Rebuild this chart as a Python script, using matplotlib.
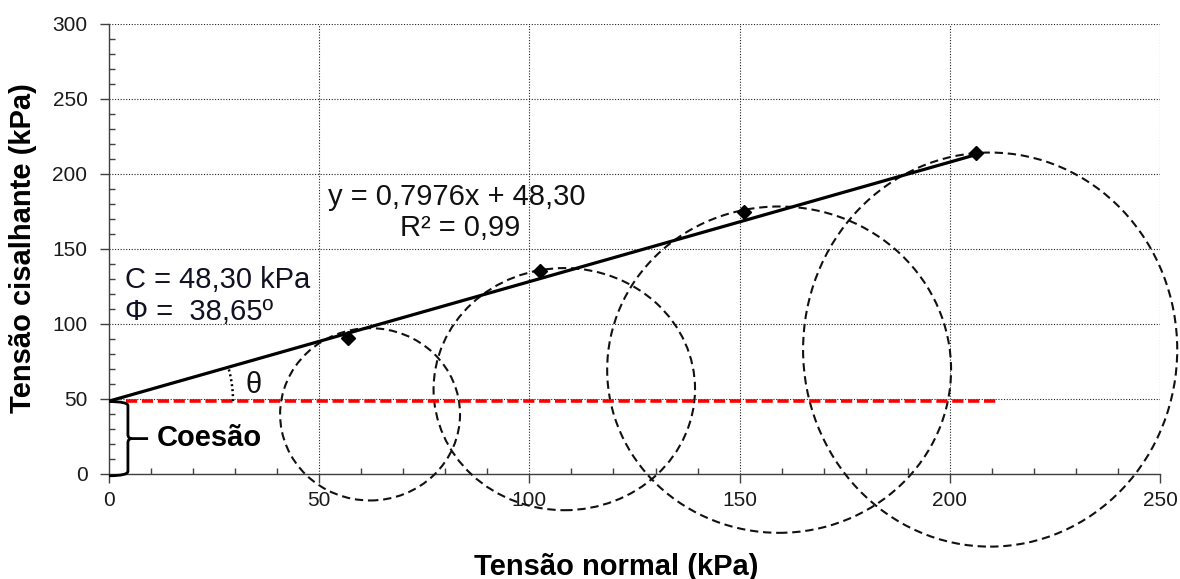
import numpy as np
import matplotlib
matplotlib.use("Agg")
import matplotlib.pyplot as plt
from matplotlib.patches import Ellipse, PathPatch
from matplotlib.path import Path

plt.rcParams['font.family'] = ['Liberation Sans', 'DejaVu Sans']

# ---- data ----
sigma_n = [56.9, 102.6, 151.0, 206.2]          # normal stress (kPa)
tau = [90.7, 134.9, 174.5, 213.8]              # shear stress (kPa)
trend_slope = 0.7976
trend_intercept = 48.30
cohesion = 48.30
phi_deg = 38.65

circle_cx = [62.1, 108.3, 159.4, 209.6]
circle_cy = [39.5, 56.3, 69.3, 82.7]
circle_w = [42.8, 62.2, 81.8, 89.0]
circle_h = [115.0, 161.6, 217.8, 263.0]

x_ticks = [0, 50, 100, 150, 200, 250]
y_ticks = [0, 50, 100, 150, 200, 250, 300]

W, H = 1180, 579
fig = plt.figure(figsize=(W / 100, H / 100), dpi=100)
ax = fig.add_axes([109 / W, 1 - 473.5 / H, (1160 - 109) / W, (473.5 - 24) / H])
ax.set_xlim(0, 250)
ax.set_ylim(0, 300)

# grid
ax.set_xticks(x_ticks)
ax.set_yticks(y_ticks)
ax.set_xticks(np.arange(0, 251, 10), minor=True)
ax.set_yticks(np.arange(0, 301, 10), minor=True)
ax.grid(True, which='major', linestyle=(0, (1, 1.5)), linewidth=0.8, color='#222222')
ax.set_axisbelow(True)
for s in ['top', 'right']:
    ax.spines[s].set_visible(False)
for s in ['left', 'bottom']:
    ax.spines[s].set_color('#404040')
    ax.spines[s].set_linewidth(1.0)
ax.tick_params(which='major', direction='out', length=6.5, width=1.0, color='#404040',
               labelsize=15, labelcolor='#1a1a1a')
ax.tick_params(axis='x', which='major', pad=6)
ax.tick_params(axis='y', which='major', pad=9)
ax.tick_params(which='minor', direction='in', length=4, width=1.0, color='#404040')

# Mohr circles
for cx, cy, w, h in zip(circle_cx, circle_cy, circle_w, circle_h):
    e = Ellipse((cx, cy), w, h, fill=False, edgecolor='#111111', linewidth=1.5,
                linestyle=(0, (4.0, 2.3)), clip_on=False, zorder=3)
    ax.add_patch(e)

# cohesion line
ax.plot([4, 211], [cohesion, cohesion], color='#ff0000', linewidth=2.6,
        linestyle=(0, (3.1, 1.3)), zorder=4, solid_capstyle='butt', dash_capstyle='butt')

# trend line
xt = np.array([0, max(sigma_n)])
ax.plot(xt, trend_slope * xt + trend_intercept, color='black', linewidth=2.3, zorder=5,
        solid_capstyle='butt')

# data points
ax.plot(sigma_n, tau, linestyle='none', marker='D', markersize=7, color='black', zorder=6)

# theta arc (radius in pixels)
bb = ax.get_position()
sx = bb.width * W / 250.0
sy = bb.height * H / 300.0
r_px = 124
ang = np.arctan(trend_slope * sy / sx)
t = np.linspace(0, ang, 30)
ax.plot(r_px * np.cos(t) / sx, trend_intercept + r_px * np.sin(t) / sy, color='black',
        linewidth=1.8, linestyle=(0, (0.8, 1.2)), zorder=5)

# brace for cohesion
bx = 4.5
verts = [(0, cohesion - 0.3), (bx, cohesion - 0.3), (bx, cohesion - 3),
         (bx, 26.0),
         (bx, 23.3), (bx + 1.0, 23.3),
         (9.3, 23.3),
         (bx + 1.0, 23.3), (bx, 23.3), (bx, 20.6),
         (bx, 1.5),
         (bx, -1.5), (0, -1.5)]
codes = [Path.MOVETO, Path.CURVE3, Path.CURVE3,
         Path.LINETO,
         Path.CURVE3, Path.CURVE3,
         Path.LINETO,
         Path.MOVETO, Path.CURVE3, Path.CURVE3,
         Path.LINETO,
         Path.CURVE3, Path.CURVE3]
ax.add_patch(PathPatch(Path(verts, codes), fill=False, edgecolor='black', linewidth=2.0,
                       clip_on=False, zorder=6))

# annotations
ax.text(52.1, 179.2, 'y = 0,7976x + 48,30', fontsize=21, va='baseline', ha='left', color='#111111')
ax.text(69.2, 158.5, 'R² = 0,99', fontsize=21, va='baseline', ha='left', color='#111111')
ax.text(3.8, 123.6, 'C = 48,30 kPa', fontsize=21, va='baseline', ha='left', color='#111122')
ax.text(3.8, 102.5, 'Φ =  38,65º', fontsize=21, va='baseline', ha='left', color='#111122')
ax.text(32.4, 53.5, 'θ', fontsize=21, va='baseline', ha='left', color='#111111')
ax.text(11.4, 18.4, 'Coesão', fontsize=21, fontweight='bold', va='baseline', ha='left', color='black')

# axis labels
fig.text(616 / W, (H - 575) / H, 'Tensão normal (kPa)', fontsize=21, fontweight='bold',
         ha='center', va='baseline')
fig.text(23 / W, 1 - 248 / H, 'Tensão cisalhante (kPa)', fontsize=21, fontweight='bold',
         ha='center', va='center', rotation=90)

fig.savefig('out.png', dpi=100)
